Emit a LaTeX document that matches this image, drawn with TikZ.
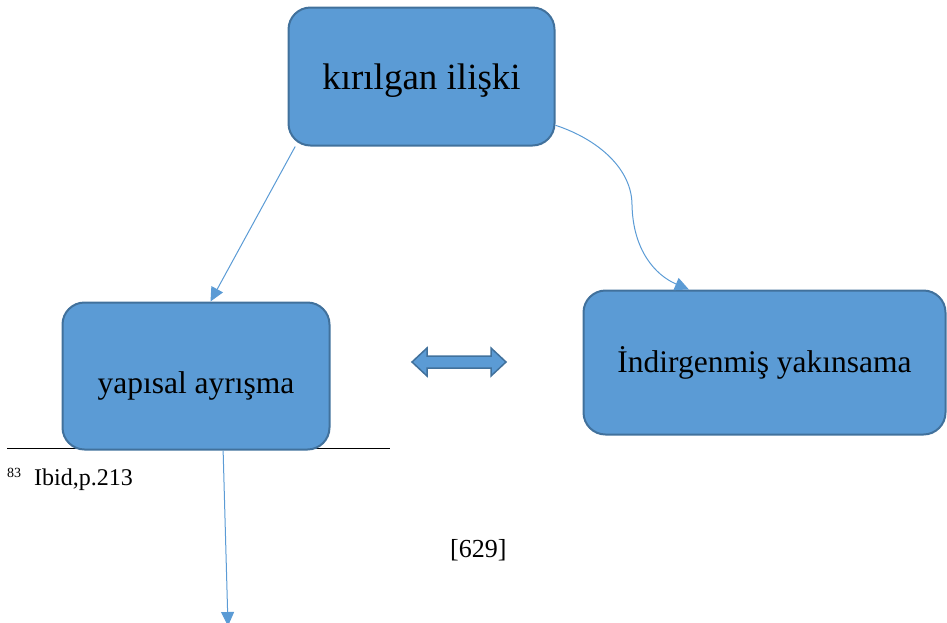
\documentclass[tikz,border=0pt]{standalone}
\usepackage{fontspec}
\setmainfont{Liberation Serif}
\usetikzlibrary{arrows.meta}
\definecolor{boxfill}{HTML}{5B9BD5}
\definecolor{boxline}{HTML}{41719C}
\begin{document}
\begin{tikzpicture}[x=1pt,y=-1pt,
 box/.style={draw=boxline, line width=2pt, fill=boxfill, rounded corners=22pt, inner sep=0pt, align=center, text depth=0pt},
 conn/.style={draw=boxfill, line width=1pt, -{Triangle[length=14pt,width=13pt]}},
 plain/.style={inner sep=0pt, anchor=base west}]
\useasboundingbox (0,0) rectangle (947,622);
\clip (0,0) rectangle (947,622);
\draw[line width=1.2pt] (7,448.5) -- (390,448.5);
\node[box, minimum width=266pt, minimum height=138pt, text height=25pt, font=\fontsize{37}{42}\selectfont] (top) at (421.5,76.5) {kırılgan ilişki};
\node[box, minimum width=267pt, minimum height=147pt, text height=34pt, font=\fontsize{31.5}{36}\selectfont] (left) at (196,376) {yapısal ayrışma};
\node[box, minimum width=362pt, minimum height=144pt, text height=19pt, font=\fontsize{31.5}{36}\selectfont] (right) at (764.5,362.5) {İndirgenmiş yakınsama};
\draw[draw=boxline, fill=boxfill, line width=1.5pt, line join=miter]
  (412,362) -- (427,348) -- (427,356) -- (491,356) -- (491,348) -- (506,362) -- (491,376) -- (491,368) -- (427,368) -- (427,376) -- cycle;
\draw[conn] (top.209) -- (left.79);
\draw[conn] (top.-20) .. controls (600,140) and (632,170) .. (632,205) .. controls (633,250) and (655,275) .. (right.136.5);
\coordinate (bottomend) at (228,626);
\draw[conn] (left.-70.6) -- (bottomend);
\node[plain, font=\fontsize{14}{16}\selectfont] (fnnum) at (7,477) {83};
\node[plain, font=\fontsize{24}{28}\selectfont] (fn) at (34,485) {Ibid,p.213};
\node[plain, font=\fontsize{26}{30}\selectfont] (page) at (450,557) {[629]};
\end{tikzpicture}
\end{document}
